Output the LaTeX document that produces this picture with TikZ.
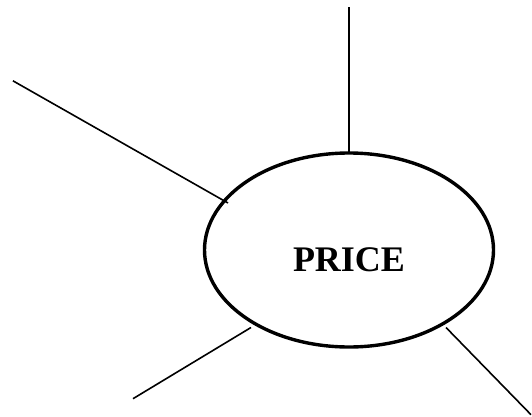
\documentclass[tikz,border=0pt]{standalone}
\usepackage{fontspec}
\setmainfont{Liberation Serif}
\usetikzlibrary{shapes.geometric}
\begin{document}
\begin{tikzpicture}[x=1pt,y=-1pt,
  spoke/.style={line width=1.6pt,line cap=butt},
  bubble/.style={draw,ellipse,line width=3.4pt,minimum width=289pt,minimum height=194pt,inner sep=0pt},
  labeltext/.style={font=\bfseries\fontsize{36}{40}\selectfont,anchor=base,inner sep=0pt}]
\useasboundingbox (0,0) rectangle (532,417);
\node[bubble] (p) at (349,250) {};
\node[labeltext] (t) at (349,271.5) {PRICE};
\coordinate (a1) at (349,7.5);
\coordinate (a2) at (349,153.5);
\coordinate (b1) at (12.9,80.8);
\coordinate (b2) at (228,203);
\coordinate (c1) at (133,398.7);
\coordinate (c2) at (251,327.5);
\coordinate (d1) at (446,327.5);
\coordinate (d2) at (531,414.7);
\draw[spoke] (a1) -- (a2);
\draw[spoke] (b1) -- (b2);
\draw[spoke] (c1) -- (c2);
\draw[spoke] (d1) -- (d2);
\end{tikzpicture}
\end{document}
